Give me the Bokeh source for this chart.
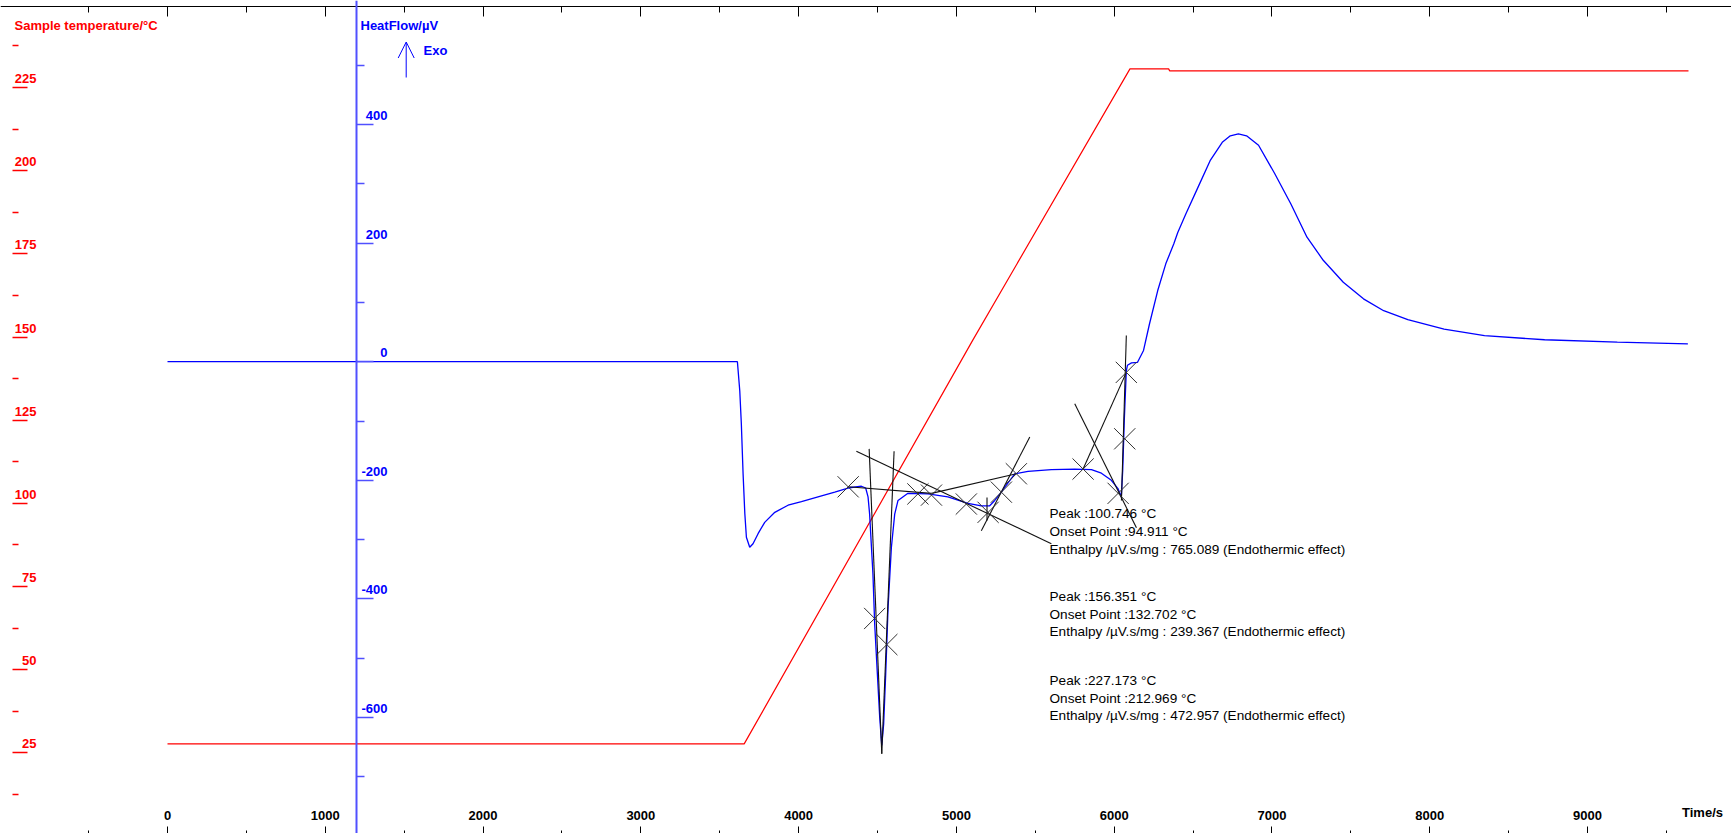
from bokeh.plotting import figure
from bokeh.models import Range1d, LinearAxis, FixedTicker, Arrow, OpenHead, ColumnDataSource
from bokeh.core.properties import value
from bokeh.embed import file_html
from bokeh.resources import INLINE

W, H = 1731, 833

# ---------------- data ----------------
time_s = [0, 3612, 3627, 3637, 3648, 3659, 3669, 3690, 3711, 3743,
          3785, 3849, 3933, 4018, 4123, 4229, 4313, 4398, 4425, 4440,
          4450, 4471, 4482, 4499, 4514, 4527, 4539, 4552, 4567, 4588,
          4609, 4630, 4693, 4820, 4946, 5073, 5158, 5211, 5243, 5285,
          5306, 5370, 5454, 5602, 5750, 5856, 5919, 5982, 6024, 6045,
          6054, 6064, 6077, 6084, 6110, 6148, 6186, 6224, 6276, 6327,
          6378, 6403, 6454, 6531, 6608, 6685, 6736, 6787, 6839, 6915,
          7018, 7120, 7222, 7325, 7452, 7580, 7708, 7861, 8091, 8347,
          8728, 9189, 9636]
heat_flow_uv = [0, 0, -49, -105, -189, -256, -296, -313, -307, -290,
                -271, -254, -242, -236, -228, -220, -213, -210, -213, -228,
                -257, -358, -442, -526, -600, -647, -611, -526, -414, -313,
                -257, -234, -222, -223, -228, -239, -243, -243, -234, -220,
                -212, -189, -185, -182, -181, -182, -188, -200, -214, -228,
                -184, -99, -15, -6, -2, -1, 19, 64, 120, 165,
                199, 218, 249, 294, 339, 370, 381, 384, 381, 365,
                317, 266, 210, 171, 134, 106, 86, 71, 55, 44,
                37, 33, 30]

temp_time_s = [0, 3655, 5103, 6100, 6345, 6352, 9640]
sample_temp_c = [27.7, 27.7, 149.0, 230.6, 230.6, 230.0, 230.0]

# analysis construction marks (time, heat flow)
marker_time_s = [4314, 4482, 4559, 4756, 4842, 5063, 5201, 5285, 5380, 5803, 6025, 6067, 6077]
marker_hf_uv = [-211, -433, -477, -223, -225, -240, -254, -220, -189, -181, -222, -130, -18]

seg_t0 = [4314, 4447, 4605, 4366, 4842, 5158, 5194, 5750, 5803, 6077]
seg_hf0 = [-211, -147, -151, -151, -222, -285, -229, -71, -181, 44]
seg_t1 = [4842, 4527, 4527, 5602, 5380, 5465, 5194, 6141, 6077, 6046]
seg_hf1 = [-222, -661, -661, -307, -189, -127, -268, -280, -18, -234]

x_major_ticks = [0, 1000, 2000, 3000, 4000, 5000, 6000, 7000, 8000, 9000]
x_minor_ticks = [-500, 500, 1500, 2500, 3500, 4500, 5500, 6500, 7500, 8500, 9500]
temp_major_ticks = [25, 50, 75, 100, 125, 150, 175, 200, 225]
temp_minor_ticks = [12.5, 37.5, 62.5, 87.5, 112.5, 137.5, 162.5, 187.5, 212.5, 237.5]
hf_major_ticks = [-600, -400, -200, 0, 200, 400]
hf_minor_ticks = [-700, -500, -300, -100, 100, 300, 500]

annotation_blocks = [
    ["Peak :100.746 \u00b0C", "Onset Point :94.911 \u00b0C",
     "Enthalpy /\u00b5V.s/mg : 765.089 (Endothermic effect)"],
    ["Peak :156.351 \u00b0C", "Onset Point :132.702 \u00b0C",
     "Enthalpy /\u00b5V.s/mg : 239.367 (Endothermic effect)"],
    ["Peak :227.173 \u00b0C", "Onset Point :212.969 \u00b0C",
     "Enthalpy /\u00b5V.s/mg : 472.957 (Endothermic effect)"],
]

# ---------------- scales ----------------
X0, X1 = (0 - 167) / 0.15778, (W - 167) / 0.15778
T1, T0 = 25 + 752.4 / 3.327, 25 + (752.4 - H) / 3.327
HF1, HF0 = 361.2 / 0.593, (361.2 - H) / 0.593


def tx(px):
    return X0 + px / W * (X1 - X0)


def ty(py):
    return T1 - py / H * (T1 - T0)


def hy(py):
    return HF1 - py / H * (HF1 - HF0)


RED = "#ff0000"
BLUE = "#0000ff"
AXBLUE = "#5050ff"
FONT = "Liberation Sans"

p = figure(width=W, height=H, x_range=Range1d(X0, X1), y_range=Range1d(T0, T1),
           output_backend="svg", toolbar_location=None, x_axis_type=None, y_axis_type=None,
           min_border=0, outline_line_color=None, title=None)
p.background_fill_color = "white"
p.border_fill_color = "white"

lab_shift_hf = 9 * (HF1 - HF0) / H
lab_shift_t = 9 * (T1 - T0) / H
p.extra_y_ranges = {
    "hf": Range1d(HF0, HF1),
    "hf_lab": Range1d(HF0 - lab_shift_hf, HF1 - lab_shift_hf),
    "t_lab": Range1d(T0 - lab_shift_t, T1 - lab_shift_t),
}

# top time axis (ticks only)
top_ax = LinearAxis(fixed_location=ty(6), ticker=FixedTicker(ticks=x_major_ticks, minor_ticks=x_minor_ticks),
                    major_tick_in=10, major_tick_out=0, minor_tick_in=6, minor_tick_out=0,
                    axis_line_color="black", major_tick_line_color="black", minor_tick_line_color="black",
                    major_label_text_color=None)
p.add_layout(top_ax, "above")

# bottom time axis ticks
bot_ax = LinearAxis(fixed_location=ty(833), ticker=FixedTicker(ticks=x_major_ticks, minor_ticks=x_minor_ticks),
                    major_tick_in=7, major_tick_out=0, minor_tick_in=3, minor_tick_out=0,
                    axis_line_color=None, major_tick_line_color="black", minor_tick_line_color="black",
                    major_label_text_color=None)
p.add_layout(bot_ax, "below")

# time tick labels (drawn above the bottom ticks)
xlab_ax = LinearAxis(fixed_location=ty(819), ticker=FixedTicker(ticks=x_major_ticks, minor_ticks=[]),
                     major_tick_in=0, major_tick_out=0, minor_tick_in=0, minor_tick_out=0,
                     axis_line_color=None, major_tick_line_color=None, minor_tick_line_color=None,
                     major_label_standoff=0, major_label_text_color="black",
                     major_label_text_font=FONT, major_label_text_font_style="bold",
                     major_label_text_font_size="13px")
p.add_layout(xlab_ax, "above")

# temperature axis ticks (red, no line)
t_ax = LinearAxis(fixed_location=tx(12), ticker=FixedTicker(ticks=temp_major_ticks, minor_ticks=temp_minor_ticks),
                  major_tick_out=15, major_tick_in=0, minor_tick_out=6, minor_tick_in=0,
                  axis_line_color=None, major_tick_line_color=RED, minor_tick_line_color=RED,
                  major_tick_line_width=1.5, minor_tick_line_width=1.5,
                  major_label_text_color=None)
p.add_layout(t_ax, "right")

tlab_ax = LinearAxis(y_range_name="t_lab", fixed_location=tx(36),
                     ticker=FixedTicker(ticks=temp_major_ticks, minor_ticks=[]),
                     major_tick_out=0, major_tick_in=0, minor_tick_out=0, minor_tick_in=0,
                     axis_line_color=None, major_tick_line_color=None, minor_tick_line_color=None,
                     major_label_standoff=0, major_label_text_color=RED,
                     major_label_text_font=FONT, major_label_text_font_style="bold",
                     major_label_text_font_size="13px")
p.add_layout(tlab_ax, "left")

# heat flow axis (blue line with ticks)
hf_ax = LinearAxis(y_range_name="hf", fixed_location=tx(356),
                   ticker=FixedTicker(ticks=hf_major_ticks, minor_ticks=hf_minor_ticks),
                   major_tick_out=17, major_tick_in=0, minor_tick_out=8, minor_tick_in=0,
                   axis_line_color=AXBLUE, axis_line_width=2,
                   major_tick_line_color=AXBLUE, minor_tick_line_color=AXBLUE,
                   major_tick_line_width=1.5, minor_tick_line_width=1.5,
                   major_label_text_color=None)
p.add_layout(hf_ax, "right")

hflab_ax = LinearAxis(y_range_name="hf_lab", fixed_location=tx(387),
                      ticker=FixedTicker(ticks=hf_major_ticks, minor_ticks=[]),
                      major_tick_out=0, major_tick_in=0, minor_tick_out=0, minor_tick_in=0,
                      axis_line_color=None, major_tick_line_color=None, minor_tick_line_color=None,
                      major_label_standoff=0, major_label_text_color=BLUE,
                      major_label_text_font=FONT, major_label_text_font_style="bold",
                      major_label_text_font_size="13px",
                      major_label_overrides={v: str(v) for v in hf_major_ticks})
p.add_layout(hflab_ax, "left")

# ---------------- data lines ----------------
p.line(temp_time_s, sample_temp_c, line_color=RED, line_width=1.2)
p.line(time_s, heat_flow_uv, line_color=BLUE, line_width=1.3, y_range_name="hf")

seg_src = ColumnDataSource(dict(x0=seg_t0, y0=seg_hf0, x1=seg_t1, y1=seg_hf1))
p.segment("x0", "y0", "x1", "y1", source=seg_src, line_color="#101010", line_width=1.1, y_range_name="hf")
p.scatter(marker_time_s, marker_hf_uv, marker="x", size=30, line_color="#303030", line_width=1,
          y_range_name="hf")

# ---------------- texts ----------------
p.text([tx(14)], [hy(25)], text=["Sample temperature/\u00b0C"], text_color=RED,
       text_font=value(FONT), text_font_style="bold", text_font_size="13px",
       text_baseline="middle", text_align="left", y_range_name="hf")
p.text([tx(360)], [hy(25)], text=["HeatFlow/\u00b5V"], text_color=BLUE,
       text_font=value(FONT), text_font_style="bold", text_font_size="13px",
       text_baseline="middle", text_align="left", y_range_name="hf")
p.text([tx(423)], [hy(50)], text=["Exo"], text_color=BLUE,
       text_font=value(FONT), text_font_style="bold", text_font_size="13px",
       text_baseline="middle", text_align="left", y_range_name="hf")
p.text([tx(1702)], [hy(812)], text=["Time/s"], text_color="black",
       text_font=value(FONT), text_font_style="bold", text_font_size="13px",
       text_baseline="middle", text_align="center", y_range_name="hf")

p.add_layout(Arrow(end=OpenHead(size=16, line_color=BLUE, line_width=1),
                   x_start=tx(405.7), y_start=hy(77), x_end=tx(405.7), y_end=hy(41.5),
                   line_color=BLUE, line_width=1, y_range_name="hf"))

ann_x, ann_y, ann_t = [], [], []
block_tops = [513.3, 596.0, 680.0]
for top, block in zip(block_tops, annotation_blocks):
    for i, line in enumerate(block):
        ann_x.append(tx(1049))
        ann_y.append(hy(top + i * 17.6))
        ann_t.append(line)
p.text(ann_x, ann_y, text=ann_t, text_color="black", text_font=value(FONT),
       text_font_size="13.6px", text_baseline="middle", text_align="left", y_range_name="hf")

open("out.html", "w").write(file_html(p, INLINE))
